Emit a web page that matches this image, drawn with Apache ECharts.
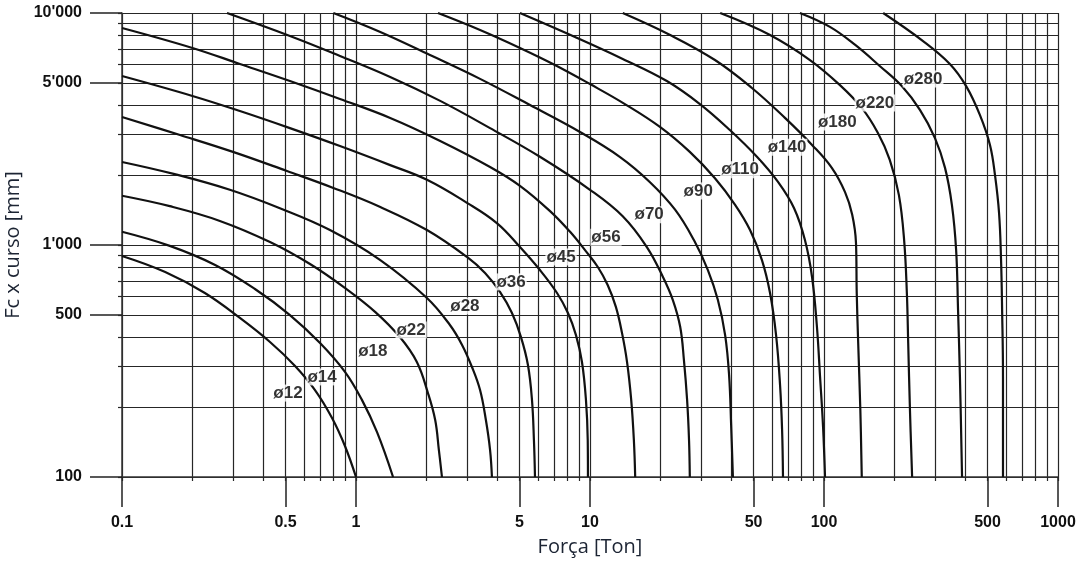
<!DOCTYPE html>
<html><head><meta charset="utf-8">
<script src="https://cdn.jsdelivr.net/npm/echarts@6/dist/echarts.min.js"></script>
<style>html,body{margin:0;padding:0;background:#fff}#c{width:1077px;height:563px}</style>
</head><body><div id="c"></div>
<script>
// ---- axis values ----
const xGrid = [0.1,0.2,0.3,0.4,0.5,0.6,0.7,0.8,0.9,1,2,3,4,5,6,7,8,9,10,20,30,40,50,60,70,80,90,100,200,300,400,500,600,700,800,900,1000];
const yGrid = [100,200,300,400,500,600,700,800,900,1000,2000,3000,4000,5000,6000,7000,8000,9000,10000];
const xTickValues = [0.1,0.5,1,5,10,50,100,500,1000];
const xTickLabels = ['0.1','0.5','1','5','10','50','100','500','1000'];
const yTickValues = [100,500,1000,5000,10000];
const yTickLabels = ['100','500',"1'000","5'000","10'000"];

// ---- curves: [Força (Ton), Fc x curso (mm)] ----
const c12 = [[0.1,897],[0.153,765],[0.226,621],[0.319,485],[0.429,382],[0.549,301],[0.668,237],[0.789,180],[0.897,136],[1.0,100]];
const c14 = [[0.1,1140],[0.160,991],[0.250,820],[0.370,646],[0.522,499],[0.702,378],[0.897,284],[1.06,215],[1.23,156],[1.44,100]];
const c18 = [[0.1,1630],[0.160,1470],[0.262,1270],[0.429,1030],[0.636,828],[0.897,653],[1.21,514],[1.54,401],[1.82,313],[2.03,230],[2.18,176],[2.26,131],[2.33,100]];
const c22 = [[0.1,2280],[0.168,2020],[0.289,1730],[0.473,1440],[0.774,1160],[1.27,861],[2.01,591],[2.52,452],[2.84,371],[3.13,298],[3.39,237],[3.59,176],[3.74,131],[3.81,100]];
const c28 = [[0.1,3560],[0.177,2980],[0.298,2520],[0.507,2084],[0.8,1762],[1.27,1458],[2.01,1160],[2.98,888],[3.56,757],[4.13,626],[4.64,509],[5.07,401],[5.43,304],[5.65,215],[5.76,144],[5.82,100]];
const c36 = [[0.1,5350],[0.2,4390],[0.319,3780],[0.522,3190],[0.854,2670],[1.40,2210],[2.01,1910],[2.98,1520],[4.01,1240],[5.02,980],[6.11,780],[7.23,621],[8.05,509],[8.71,409],[9.24,313],[9.61,215],[9.78,144],[9.80,100]];
const c45 = [[0.1,8620],[0.2,7070],[0.319,6030],[0.522,5090],[0.854,4260],[1.40,3530],[2.29,2810],[3.74,2170],[5.02,1800],[6.75,1400],[8.22,1140],[9.52,951],[10.8,804],[11.9,672],[12.9,541],[13.7,418],[14.4,313],[15.0,215],[15.4,144],[15.6,100]];
const c56 = [[0.281,10000],[0.522,7960],[0.854,6530],[1.40,5300],[2.29,4180],[3.74,3190],[6.11,2400],[10.0,1730],[13.8,1330],[17.5,980],[20.5,728],[22.6,579],[24.3,443],[25.2,319],[26.0,215],[26.5,144],[26.7,100]];
const c70 = [[0.8,10000],[1.27,8280],[2.07,6590],[3.39,5200],[5.54,4010],[9.06,3070],[13.4,2400],[18.0,1870],[23.1,1420],[27.8,1050],[31.9,780],[35.2,579],[37.8,409],[39.3,275],[40.1,168],[40.8,100]];
const c90 = [[2.24,10000],[3.39,8450],[5.02,7070],[7.08,5970],[10.0,4940],[14.1,4050],[19.9,3230],[26.7,2520],[34.2,1940],[41.7,1490],[48.3,1160],[54.3,861],[58.8,621],[62.4,409],[64.9,249],[66.2,160],[66.8,100]];
const c110 = [[5.02,10000],[8.63,7880],[13.8,6340],[21.3,5090],[29.5,4050],[39.6,3130],[51.7,2400],[63.6,1870],[74.5,1440],[82.9,1050],[88.9,728],[93.3,443],[96.2,270],[99.1,164],[101,100]];
const c140 = [[13.8,10000],[22.0,8040],[34.2,6270],[49.2,4750],[68.1,3530],[88.9,2700],[108,2150],[123,1690],[132,1350],[137,1020],[138,621],[140,378],[143,194],[145,100]];
const c180 = [[36.0,10000],[58.8,8040],[87.1,6270],[117,4890],[145,3900],[170,3040],[191,2330],[209,1640],[220,1050],[226,621],[229,378],[233,194],[238,100]];
const c220 = [[78.9,10000],[106,8710],[136,7280],[173,5910],[215,4840],[257,3820],[298,2890],[329,2150],[352,1490],[367,951],[374,525],[381,270],[389,100]];
const c280 = [[179,10000],[265,7570],[345,6030],[405,4840],[464,3630],[512,2700],[538,2000],[560,1370],[571,861],[577,525],[582,270],[582,100]];

const curveNames = ['ø12','ø14','ø18','ø22','ø28','ø36','ø45','ø56','ø70','ø90','ø110','ø140','ø180','ø220','ø280'];
const curves = [c12,c14,c18,c22,c28,c36,c45,c56,c70,c90,c110,c140,c180,c220,c280];
// label anchor for each curve name (data units)
const labelX = [0.512,0.716,1.18,1.72,2.92,4.60,7.52,11.7,17.9,29.0,43.8,69.5,114,165,265];
const labelY = [230,270,349,430,546,693,888,1080,1350,1710,2110,2640,3390,4090,5200];

const FONT = "'Liberation Sans', Arial, sans-serif";
function pick(v, vals, labels){
  let best = 0, bd = Infinity;
  vals.forEach((t,i)=>{ const d = Math.abs(Math.log10(v)-Math.log10(t)); if(d<bd){bd=d;best=i;} });
  return labels[best];
}
const gridLine = {color:'#262626', width:1.2};

const chart = echarts.init(document.getElementById('c'), null, {renderer:'canvas'});
chart.setOption({
  backgroundColor:'#fff',
  animation:false,
  grid:{left:122, right:19, top:13, bottom:86, containLabel:false, outerBoundsMode:'none'},
  xAxis:[
    {type:'log', logBase:10, min:0.1, max:1000, position:'bottom',
     name:'Força [Ton]', nameLocation:'middle', nameGap:60,
     nameTextStyle:{fontFamily:"'Open Sans', sans-serif", fontSize:20, color:'#1c2433'},
     axisLine:{show:true, lineStyle:{color:'#333', width:1.5}},
     axisTick:{show:true, customValues:xTickValues, length:30, inside:false, lineStyle:{color:'#222', width:1.5}},
     axisLabel:{customValues:xTickValues, margin:38, fontFamily:FONT, fontSize:16, fontWeight:'bold', color:'#111',
       formatter:(v)=>pick(v,xTickValues,xTickLabels)},
     splitLine:{show:false}, minorTick:{show:false}},
    {type:'log', logBase:10, min:0.1, max:1000, position:'bottom',
     axisLine:{show:false},
     axisTick:{show:true, customValues:xGrid, length:4, lineStyle:gridLine},
     axisLabel:{show:false},
     splitLine:{show:true, lineStyle:gridLine}}
  ],
  yAxis:[
    {type:'log', logBase:10, min:100, max:10000, position:'left',
     name:'Fc x curso [mm]', nameLocation:'middle', nameGap:87, nameRotate:90,
     nameTextStyle:{fontFamily:"'Open Sans', sans-serif", fontSize:20, color:'#1c2433'},
     axisLine:{show:true, lineStyle:{color:'#333', width:1.5}},
     axisTick:{show:true, customValues:yTickValues, length:32, lineStyle:{color:'#222', width:1.5}},
     axisLabel:{customValues:yTickValues, margin:40, fontFamily:FONT, fontSize:16, fontWeight:'bold', color:'#111',
       formatter:(v)=>pick(v,yTickValues,yTickLabels)},
     splitLine:{show:false}},
    {type:'log', logBase:10, min:100, max:10000, position:'left',
     axisLine:{show:false},
     axisTick:{show:true, customValues:yGrid, length:4, lineStyle:gridLine},
     axisLabel:{show:false},
     splitLine:{show:true, lineStyle:gridLine}}
  ],
  series: curves.map((d,i)=>({
    type:'line', name:curveNames[i], data:d, xAxisIndex:0, yAxisIndex:0,
    smooth:0.4, symbol:'none', lineStyle:{color:'#111', width:2.2}, z:3, silent:true
  })).concat([{
    type:'scatter', xAxisIndex:0, yAxisIndex:0, z:5, silent:true,
    symbolSize:1, itemStyle:{color:'rgba(0,0,0,0)'},
    data: labelX.map((x,i)=>({value:[x,labelY[i]], name:curveNames[i]})),
    label:{show:true, position:'inside', formatter:'{b}', color:'#000', fontFamily:FONT, fontSize:17, fontWeight:'bold',
      backgroundColor:'#fff', padding:[0,1,0,1]}
  }])
});
</script>
</body></html>
